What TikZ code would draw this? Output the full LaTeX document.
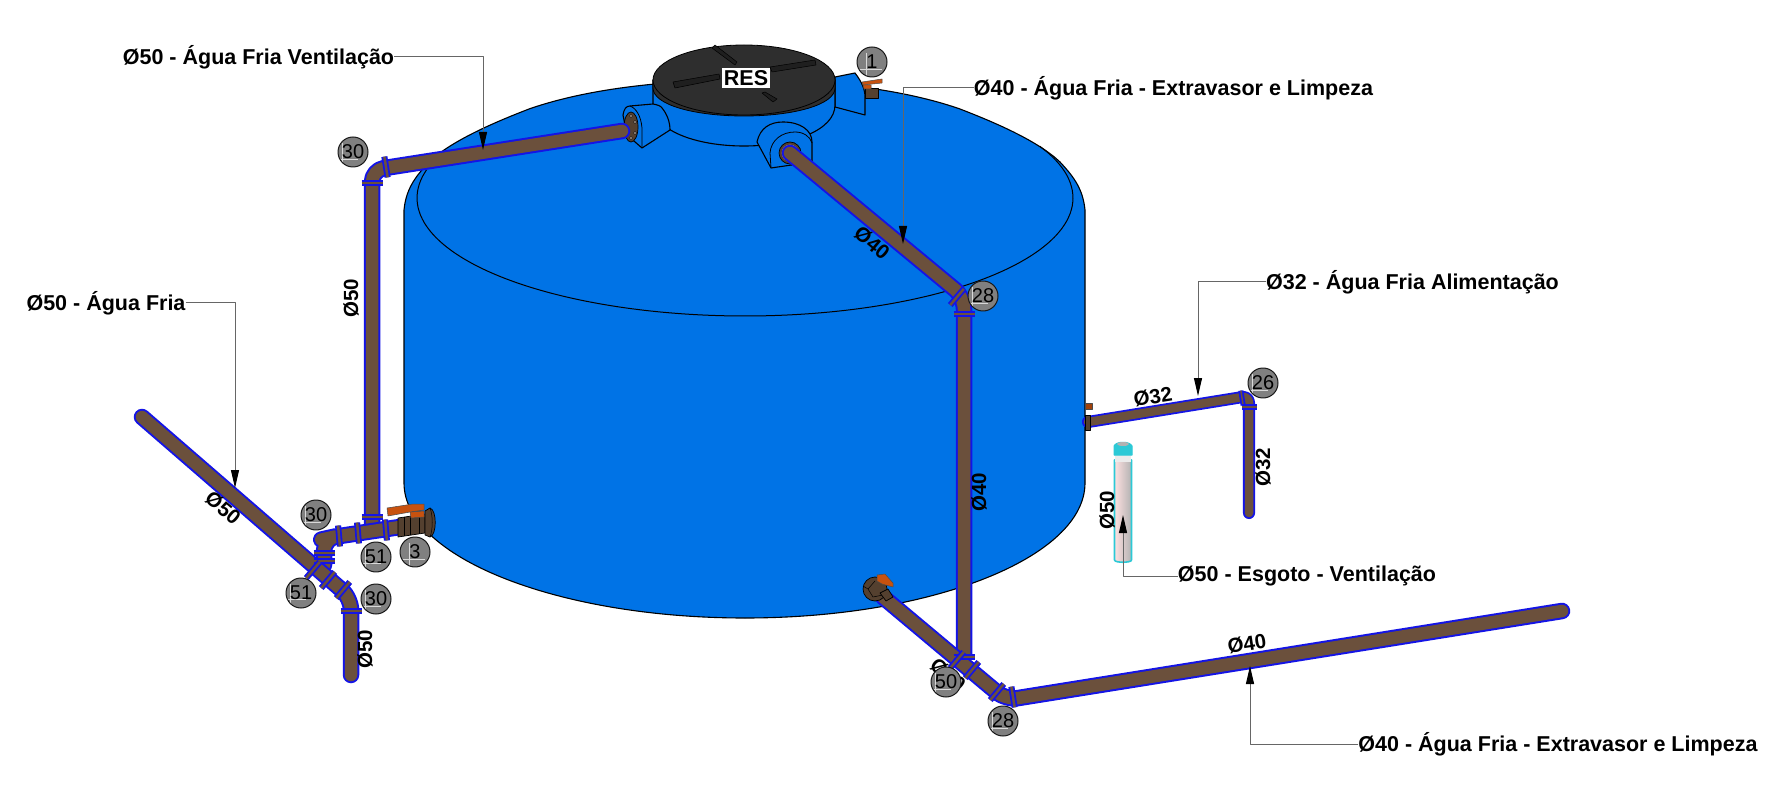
\documentclass[tikz,border=0pt]{standalone}
\usepackage{fontspec}
\setmainfont{Liberation Sans}
\usetikzlibrary{arrows.meta}
\definecolor{tankblue}{HTML}{0073E6}
\definecolor{pipebrown}{HTML}{6B503C}
\definecolor{pipeblue}{HTML}{1414E6}
\definecolor{lidgrey}{HTML}{2E2E2E}
\definecolor{valvebrown}{HTML}{54402F}
\definecolor{valveorange}{HTML}{C8520F}
\definecolor{ventcyan}{HTML}{2CC9D6}
\tikzset{
	tank/.style={draw=black,line width=1.1pt,fill=tankblue,line join=round},
	pipe/.style={draw=pipeblue,line width=2pt,double=pipebrown,double distance=12.5pt,line cap=round,line join=round,rounded corners=12pt},
	thinpipe/.style={pipe,line width=1.8pt,double distance=8.5pt,rounded corners=7pt},
	ring/.style={draw=pipeblue,line width=1.8pt,double=pipebrown,double distance=2.5pt},
	leader/.style={draw=black!60,line width=1pt,-{Stealth[inset=0pt,length=18pt,width=8pt,black]}},
	lbl/.style={font=\bfseries\fontsize{21.5}{24}\selectfont,inner sep=0pt},
	dia/.style={font=\bfseries\fontsize{20.5}{24}\selectfont,inner sep=0pt},
	badge/.style={circle,draw=black!90,line width=1pt,fill=black!50,minimum size=30pt,inner sep=0pt,font=\fontsize{20}{20}\selectfont,
		path picture={\draw[white!85!black,line width=.7pt,shift={(path picture bounding box.center)},rotate=#1] (-16,0)--(16,0) (0,-16)--(0,16);}},
	valve/.style={draw=black,line width=.7pt,fill=valvebrown},
	handle/.style={draw=black!70,line width=.5pt,fill=valveorange},
}
\begin{document}
\begin{tikzpicture}[x=1pt,y=-1pt,line join=round]
	\useasboundingbox (0,0) rectangle (1781,786);
	\fill[white] (0,0) rectangle (1781,786);
	\path[tank] (404,483)--(404,210) .. controls (406,190) and (414,178) .. (429,162) .. controls (450,142) and (490,124) .. (529,109) .. controls (589,88) and (669,80) .. (745,80) .. controls (820,80) and (900,88) .. (960,109) .. controls (999,124) and (1039,142) .. (1060,162) .. controls (1075,178) and (1083,190) .. (1085,210)--(1085,483) .. controls (1085,557) and (933,618) .. (745,618) .. controls (557,618) and (404,557) .. (404,483)--cycle;
	\draw[line width=1pt] plot[smooth,samples=60,domain=-26:194] ({745+328*cos(\x)},{198+118*sin(\x)});
	\draw[tank] (835,77)--(855,73) .. controls (862,82) and (865,90) .. (865,97)--(865,115)--(835,107)--cycle;
	\draw[tank] (653,80)--(653,105) .. controls (653,130) and (695,146) .. (744,146) .. controls (793,146) and (835,130) .. (835,105)--(835,80)--cycle;
	\draw[fill=lidgrey,line width=.8pt] (653,80)--(653,88) .. controls (653,105) and (695,116) .. (744,116) .. controls (793,116) and (835,105) .. (835,88)--(835,80)--cycle;
	\draw[fill=lidgrey,line width=.8pt] (744,80) ellipse [x radius=91pt,y radius=35pt];
	\draw[draw=black,fill=black!88,line width=.5pt] (673,82)--(719,74)--(720,79)--(675,88)--cycle (770,67)--(815,60)--(816,65)--(772,72)--cycle (712,48)--(715,45)--(737,62)--(735,65)--cycle (762,93)--(765,92)--(777,99)--(773,102)--cycle;
	\draw[tank] (623,115) .. controls (624,109) and (626,106) .. (630,106)--(653,104) .. controls (658,105) and (661,106) .. (662,108) .. controls (667,114) and (670,122) .. (670,130)--(642,148)--(627,135)--cycle;
	\draw[line width=.8pt] (630,106) .. controls (636,108) and (641,116) .. (642,128)--(642,148);
	\draw[valve] (631,127) ellipse [x radius=7pt,y radius=15pt];
	\draw[fill=pipebrown!60!white,line width=.4pt] (631,116) circle [radius=1.6pt] (635,122) circle [radius=1.6pt] (635,133) circle [radius=1.6pt] (631,138) circle [radius=1.6pt];
	\draw[tank] (771,168)--(757,142) .. controls (760,128) and (770,122) .. (783,122) .. controls (800,122) and (812,130) .. (812,142)--(812,162)--cycle;
	\draw[line width=.8pt] (771,168)--(770,153) .. controls (771,140) and (782,132) .. (795,132) .. controls (803,132) and (810,136) .. (812,143);
	\draw[valve] (790,153) circle [radius=11pt];
	\draw[draw=pipebrown!60!white,line width=.7pt] (790,153) circle [radius=8pt];
	\draw[valve] (865,88) rectangle (878,98);
	\draw[handle] (863,85)--(871,85)--(871,89)--(864,89)--cycle;
	\draw[handle] (862,82)--(882,79)--(882,83)--(863,85)--cycle;
	\draw[thinpipe] (1088,422)--(1249,396)--(1249,513);
	\draw[valve] (1085,415) rectangle (1090,430);
	\draw[handle,fill=valveorange!80!black] (1085,403) rectangle (1092,409);
	\draw[pipe] (372,530)--(372,170)--(622,131);
	\draw[pipe] (400,527)--(333,537)--(324,539)--(324,565);
	\draw[pipe] (142,417)--(351,598)--(351,675);
	\draw[pipe] (790,153)--(964,297)--(964,655);
	\draw[pipe] (883,597)--(1006,700)--(1562,611);
	\foreach \x/\y/\r in {372/183/0,386/167/99,372/517/0,339/536/95,358/533/95,386/530/95,324/553/0,324/561/0,313/570/50,328/580/50,343/590/50,351/611/0,964/657/0,957/660/50,972/670/50,997/692/50,1013/697/99,957/297/50,964/314/0}
		\draw[ring,rotate around={\r:(\x,\y)}] (\x-10.5,\y)--(\x+10.5,\y);
	\foreach \x/\y/\r in {1242/398/99,1249/407/0}
		\draw[ring,double distance=1.5pt,rotate around={\r:(\x,\y)}] (\x-7.5,\y)--(\x+7.5,\y);
	\draw[valve] (398,518)--(425,514)--(425,533)--(398,537)--cycle;
	\draw[line width=.5pt] (404,517)--(404,536) (410,516)--(410,535) (419,515)--(419,534);
	\draw[valve] (425,511)--(430,508) .. controls (437,510) and (437,535) .. (430,537)--(425,535)--cycle;
	\draw[line width=.5pt] (430,508) .. controls (433,515) and (433,530) .. (430,537);
	\draw[handle] (410,512)--(424,511)--(424,517)--(411,518)--cycle;
	\draw[handle] (387,508)--(413,504)--(424,504)--(424,510)--(410,512)--(388,516)--cycle;
	\draw[valve] (875,589) circle [radius=12pt];
	\draw[line width=.5pt] (875,581)--(868,589)--(873,597)--(883,595) (868,589)--(863,586);
	\draw[valve] (880,593)--(888,589)--(893,597)--(886,601)--cycle;
	\draw[handle] (877,575)--(885,574)--(893,583)--(893,587)--(882,584)--(877,581)--cycle;
	\draw[ventcyan,line width=1.6pt,left color=white!88!red,right color=black!30] (1114.5,460)--(1114.5,560) .. controls (1114.5,563) and (1131.5,563) .. (1131.5,560)--(1131.5,460)--cycle;
	\fill[black!8] (1115,455) rectangle (1131,462);
	\draw[ventcyan,fill=ventcyan,line width=1pt] (1114,455)--(1114,446) .. controls (1116,441) and (1130,441) .. (1132,446)--(1132,455)--cycle;
	\fill[black!30] (1123,444) ellipse [x radius=6pt,y radius=2pt];
	\node[lbl] (lblvent) at (258.5,57) {Ø50 - Água Fria Ventilação};
	\node[lbl] (lblextra) at (1173.5,88) {Ø40 - Água Fria - Extravasor e Limpeza};
	\node[lbl] (lblfria) at (106,303) {Ø50 - Água Fria};
	\node[lbl] (lblalim) at (1412.5,282) {Ø32 - Água Fria Alimentação};
	\node[lbl] (lblesgoto) at (1307,576) {Ø50 - Esgoto - Ventilação};
	\node[lbl] (lbllimp) at (1558,744) {Ø40 - Água Fria - Extravasor e Limpeza};
	\node[lbl,fill=white,inner sep=2pt] (lblres) at (746,78) {RES};
	\coordinate (tipvent) at (483,150);
	\coordinate (tipextra) at (903,244);
	\coordinate (tipfria) at (235,488);
	\coordinate (tipalim) at (1198,396);
	\coordinate (tipesgoto) at (1123,515);
	\coordinate (tiplimp) at (1250,666);
	\draw[leader] (lblvent.east) -| (tipvent);
	\draw[leader] (lblextra.west) -| (tipextra);
	\draw[leader] (lblfria.east) -| (tipfria);
	\draw[leader] (lblalim.west) -| (tipalim);
	\draw[leader] (lblesgoto.west) -| (tipesgoto);
	\draw[leader] (lbllimp.west) -| (tiplimp);
	\node[dia,rotate=90] (d1) at (351,298) {Ø50};
	\node[dia,rotate=-40] (d2) at (872,243) {Ø40};
	\node[dia,rotate=-40] (d3) at (223,508) {Ø50};
	\node[dia,rotate=90] (d4) at (365,649) {Ø50};
	\node[dia,rotate=90] (d5) at (979,492) {Ø40};
	\node[dia,rotate=9] (d6) at (1153,397) {Ø32};
	\node[dia,rotate=90] (d7) at (1263,467) {Ø32};
	\node[dia,rotate=90] (d8) at (1107,510) {Ø50};
	\node[dia,rotate=9] (d9) at (1247,644) {Ø40};
	\node[dia,rotate=-40] (d10) at (948,675) {Ø50};
	\foreach \nm/\x/\y/\t/\r in {a/353/152/30/40,b/316/515/30/50,c/376/557/51/40,d/415/552/3/45,e/301/593/51/40,f/376/599/30/50,g/872/62/1/40,h/983/296/28/60,i/1263/383/26/45,j/946/682/50/50,k/1003/721/28/55}
		\node[badge=\r] (bal\nm) at (\x,\y) {\t};
\end{tikzpicture}
\end{document}
